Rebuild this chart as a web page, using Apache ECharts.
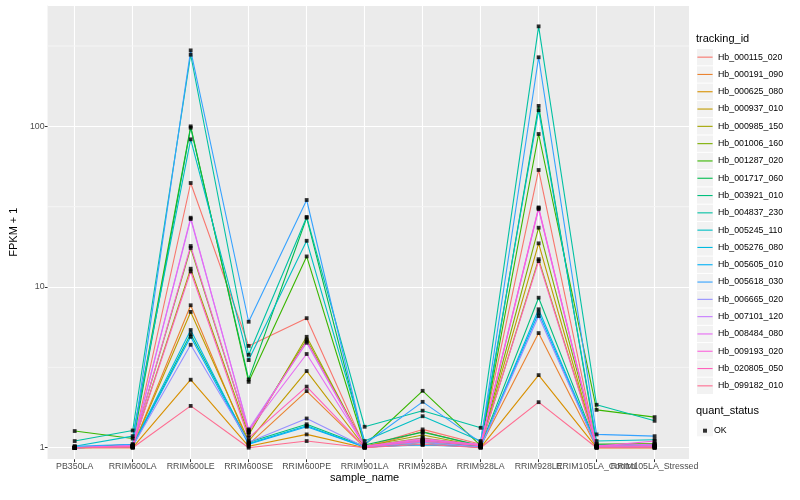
<!DOCTYPE html>
<html>
<head>
<meta charset="utf-8">
<script src="https://cdn.jsdelivr.net/npm/echarts@6/dist/echarts.min.js"></script>
<style>html,body{margin:0;padding:0;background:#fff}#c{width:800px;height:500px}</style>
</head>
<body>
<div id="c"></div>
<script>
const categories = ['PB350LA','RRIM600LA','RRIM600LE','RRIM600SE','RRIM600PE','RRIM901LA','RRIM928BA','RRIM928LA','RRIM928LE','RRIM105LA_Control','RRIM105LA_Stressed'];
const trackingIds = ['Hb_000115_020','Hb_000191_090','Hb_000625_080','Hb_000937_010','Hb_000985_150','Hb_001006_160','Hb_001287_020','Hb_001717_060','Hb_003921_010','Hb_004837_230','Hb_005245_110','Hb_005276_080','Hb_005605_010','Hb_005618_030','Hb_006665_020','Hb_007101_120','Hb_008484_080','Hb_009193_020','Hb_020805_050','Hb_099182_010'];
const colors = ['#F8766D','#EA8331','#D89000','#C09B00','#A3A500','#7CAE00','#39B600','#00BB4E','#00BF7D','#00C1A3','#00BFC4','#00BAE0','#00B0F6','#35A2FF','#9590FF','#C77CFF','#E76BF3','#FA62DB','#FF62BC','#FF6C91'];
// FPKM + 1 values per tracking id, in category order
const s01 = [1.00, 1.01, 44.4, 4.30, 6.40, 1.01, 1.30, 1.05, 53.5, 1.02, 1.02];
const s02 = [1.00, 1.01, 7.70, 1.05, 2.25, 1.00, 1.26, 1.02, 5.17, 1.00, 1.00];
const s03 = [1.00, 1.00, 2.65, 1.02, 1.21, 1.00, 1.08, 1.00, 2.83, 1.00, 1.00];
const s04 = [1.00, 1.01, 7.00, 1.10, 3.00, 1.01, 1.12, 1.02, 18.7, 1.01, 1.03];
const s05 = [1.00, 1.02, 13.0, 1.20, 4.90, 1.02, 1.20, 1.02, 14.9, 1.02, 1.04];
const s06 = [1.00, 1.03, 17.5, 1.25, 4.70, 1.02, 1.15, 1.03, 23.4, 1.05, 1.06];
const s07 = [1.27, 1.14, 100, 2.57, 15.5, 1.04, 2.26, 1.03, 89.6, 1.72, 1.55];
const s08 = [1.00, 1.05, 98.0, 2.66, 27.0, 1.04, 1.25, 1.03, 134, 1.05, 1.05];
const s09 = [1.00, 1.02, 5.10, 1.08, 1.40, 1.02, 1.10, 1.02, 8.58, 1.03, 1.02];
const s10 = [1.10, 1.28, 279, 3.79, 27.3, 1.35, 1.70, 1.33, 419, 1.85, 1.47];
const s11 = [1.02, 1.18, 83.0, 3.51, 19.4, 1.10, 1.57, 1.10, 126, 1.10, 1.12];
const s12 = [1.00, 1.03, 5.40, 1.06, 1.37, 1.01, 1.05, 1.01, 7.27, 1.02, 1.02];
const s13 = [1.00, 1.02, 4.90, 1.05, 1.35, 1.01, 1.04, 1.01, 6.92, 1.01, 1.01];
const s14 = [1.02, 1.05, 297, 6.08, 34.8, 1.05, 1.93, 1.08, 269, 1.21, 1.18];
const s15 = [1.00, 1.02, 4.37, 1.08, 1.52, 1.01, 1.08, 1.01, 6.60, 1.01, 1.01];
const s16 = [1.00, 1.03, 26.5, 1.30, 4.50, 1.02, 1.10, 1.04, 30.5, 1.02, 1.03];
const s17 = [1.00, 1.03, 27.0, 1.28, 3.83, 1.02, 1.12, 1.05, 31.3, 1.03, 1.05];
const s18 = [1.00, 1.02, 18.0, 1.25, 4.60, 1.02, 1.14, 1.04, 31.0, 1.02, 1.10];
const s19 = [1.00, 1.02, 12.5, 1.15, 2.40, 1.01, 1.10, 1.03, 14.5, 1.01, 1.02];
const s20 = [1.00, 1.00, 1.82, 1.00, 1.10, 1.00, 1.05, 1.00, 1.92, 1.00, 1.00];
const seriesValues = [s01,s02,s03,s04,s05,s06,s07,s08,s09,s10,s11,s12,s13,s14,s15,s16,s17,s18,s19,s20];
const yTicks = [1, 10, 100];
const yMinorTicks = [3.1623, 31.623, 316.23];
const yMin = 0.847, yMax = 569;

const chart = echarts.init(document.getElementById('c'), null, {renderer: 'canvas'});
const font = 'Liberation Sans, Arial, Helvetica, sans-serif';
const minorColor = '#F5F5F5';
const lineSeries = trackingIds.map((id, i) => ({
  name: id, type: 'line', xAxisIndex: 1, yAxisIndex: 1,
  data: seriesValues[i], symbol: 'none', clip: false, animation: false,
  lineStyle: {color: colors[i], width: 1.1}, itemStyle: {color: colors[i]},
  emphasis: {disabled: true}, z: 3
}));
// minor (half-decade) grid lines across the whole panel
const minorSeries = yMinorTicks.map((v, k) => ({
  name: 'minor-grid-' + k, type: 'line', xAxisIndex: 0, yAxisIndex: 0,
  data: [[0, v], [1, v]], symbol: 'none', silent: true, animation: false, clip: true,
  lineStyle: {color: minorColor, width: 1}, emphasis: {disabled: true}, z: 2
}));
const pointData = [];
seriesValues.forEach(vals => vals.forEach((v, j) => pointData.push([j, v])));
const legendText = {fontSize: 8.8, color: '#000', fontFamily: font};
const keyIcon = 'path://M0,0 M16,16.3 M0.4,7.6 L15.6,7.6 L15.6,8.7 L0.4,8.7 Z';
const panel = {left: 40, right: 111, top: 5, bottom: 40.7};
const option = {
  animation: false,
  textStyle: {fontFamily: font},
  color: colors,
  title: [
    {text: 'tracking_id', left: 696, top: 33, textStyle: {fontSize: 11, fontWeight: 'normal', color: '#000', fontFamily: font}, padding: 0},
    {text: 'quant_status', left: 696, top: 405, textStyle: {fontSize: 11, fontWeight: 'normal', color: '#000', fontFamily: font}, padding: 0}
  ],
  grid: [
    Object.assign({show: true, backgroundColor: '#EBEBEB', borderWidth: 0, containLabel: false, z: 0}, panel),
    {left: 74.7, right: 145.4, top: 5, bottom: 40.7, show: false, containLabel: false}
  ],
  xAxis: [
    {type: 'value', gridIndex: 0, min: 0, max: 1, show: false},
    {type: 'category', gridIndex: 1, data: categories, boundaryGap: false,
     name: 'sample_name', nameLocation: 'middle', nameGap: 13, nameMoveOverlap: false,
     nameTextStyle: {fontSize: 11, color: '#000', fontFamily: font},
     axisLine: {show: false},
     axisTick: {show: true, length: 2.75, lineStyle: {color: '#333', width: 1}},
     axisLabel: {interval: 0, hideOverlap: false, margin: 3, fontSize: 8.8, color: '#4D4D4D', fontFamily: font},
     splitLine: {show: true, lineStyle: {color: '#FFFFFF', width: 1.1}}, z: 2}
  ],
  yAxis: [
    {type: 'log', logBase: 10, gridIndex: 0, min: yMin, max: yMax, position: 'left',
     name: 'FPKM + 1', nameLocation: 'middle', nameRotate: 90, nameGap: 22,
     nameTextStyle: {fontSize: 11, color: '#000', fontFamily: font},
     axisLine: {show: false},
     axisTick: {show: true, length: 2.75, lineStyle: {color: '#333', width: 1}},
     axisLabel: {margin: 3, fontSize: 8.8, color: '#4D4D4D', fontFamily: font, showMinLabel: false, showMaxLabel: false,
       formatter: v => (yTicks.some(t => Math.abs(t - v) / t < 1e-6) ? String(Math.round(v)) : '')},
     splitLine: {show: true, lineStyle: {color: '#FFFFFF', width: 1.1}}, z: 2},
    {type: 'log', logBase: 10, gridIndex: 1, min: yMin, max: yMax, show: false,
     splitLine: {show: false}}
  ],
  legend: [
    {data: trackingIds, orient: 'vertical', left: 697, top: 49, padding: 0,
     itemWidth: 16, itemHeight: 16.3, itemGap: 1, icon: 'rect', selectedMode: false,
     itemStyle: {color: '#F2F2F2', borderWidth: 0}, formatter: () => '', textStyle: legendText},
    {data: trackingIds, orient: 'vertical', left: 697, top: 49, padding: 0,
     itemWidth: 16, itemHeight: 16.3, itemGap: 1, icon: keyIcon, selectedMode: false,
     textStyle: legendText},
    {data: ['OK'], orient: 'vertical', left: 697, top: 420, padding: 0,
     itemWidth: 16, itemHeight: 16.3, icon: 'rect', selectedMode: false,
     itemStyle: {color: '#F2F2F2', borderWidth: 0}, formatter: () => '', textStyle: legendText},
    {data: ['OK'], orient: 'vertical', left: 703, top: 426.2, padding: 0,
     itemWidth: 4, itemHeight: 4, icon: 'rect', selectedMode: false,
     textStyle: Object.assign({}, legendText, {padding: [0, 0, 0, 2]})}
  ],
  series: minorSeries.concat(lineSeries).concat([{
    name: 'OK', type: 'scatter', xAxisIndex: 1, yAxisIndex: 1, data: pointData,
    symbol: 'rect', symbolSize: 3.8, clip: false, itemStyle: {color: '#000'}, z: 5,
    emphasis: {disabled: true}, animation: false
  }])
};
chart.setOption(option);
</script>
</body>
</html>
